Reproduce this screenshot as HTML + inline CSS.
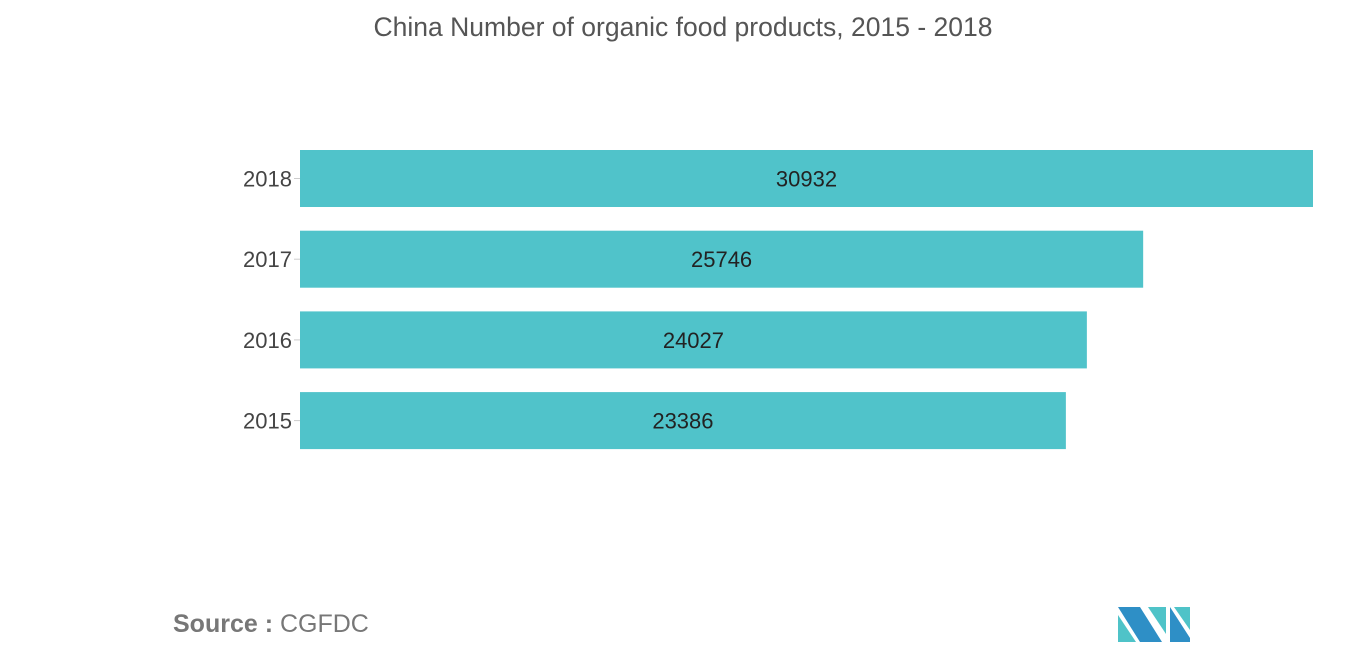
<!DOCTYPE html>
<html><head><meta charset="utf-8"><style>
body{margin:0;width:1366px;height:655px;background:#fff;overflow:hidden;font-family:"Liberation Sans",sans-serif}
</style></head><body>
<svg width="1366" height="655">
<text x="683" y="36" text-anchor="middle" font-size="26.5" fill="#555" textLength="619" lengthAdjust="spacingAndGlyphs">China Number of organic food products, 2015 - 2018</text>
<g id="bars"></g>
<text x="173" y="632" font-size="25" fill="#777"><tspan font-weight="bold">Source :</tspan> CGFDC</text>
<g>
<polygon points="1118,607 1140,607 1162,642 1140,642" fill="#2e8fc6"/>
<polygon points="1118,615 1136,642 1118,642" fill="#4fc3c8"/>
<polygon points="1148,607 1166,607 1166,634" fill="#4fc3c8"/>
<polygon points="1170,607 1190,638 1190,642 1170,642" fill="#2e8fc6"/>
<polygon points="1174,607 1190,607 1190,630" fill="#4fc3c8"/>
</g>
</svg>
<script>
const categories=["2018","2017","2016","2015"];
const values=[30932,25746,24027,23386];
const x0=300,xMax=30932,xW=1013;
const xs=v=>x0+v/xMax*xW;
const yTop=150,step=80.7,bh=57;
const g=document.getElementById('bars');
const NS="http://www.w3.org/2000/svg";
categories.forEach((c,i)=>{
 const y=yTop+i*step;
 const r=document.createElementNS(NS,'rect');
 r.setAttribute('x',x0);r.setAttribute('y',y);r.setAttribute('width',xs(values[i])-x0);r.setAttribute('height',bh);r.setAttribute('fill','#50c3ca');
 
 
 g.appendChild(r);
 const t=document.createElementNS(NS,'line');
 t.setAttribute('x1',294);t.setAttribute('x2',300);t.setAttribute('y1',y+bh/2);t.setAttribute('y2',y+bh/2);t.setAttribute('stroke','#ccc');
 
 
 g.appendChild(t);
 const l=document.createElementNS(NS,'text');
 l.setAttribute('x',292);l.setAttribute('y',y+bh/2+8);l.setAttribute('text-anchor','end');l.setAttribute('font-size','22');l.setAttribute('fill','#444');
 l.textContent=c;
 
 
 g.appendChild(l);
 const v=document.createElementNS(NS,'text');
 v.setAttribute('x',(x0+xs(values[i]))/2);v.setAttribute('y',y+bh/2+8);v.setAttribute('text-anchor','middle');v.setAttribute('font-size','22');v.setAttribute('fill','#222');
 v.textContent=values[i];
 
 
 g.appendChild(v);
});
</script>
</body></html>
